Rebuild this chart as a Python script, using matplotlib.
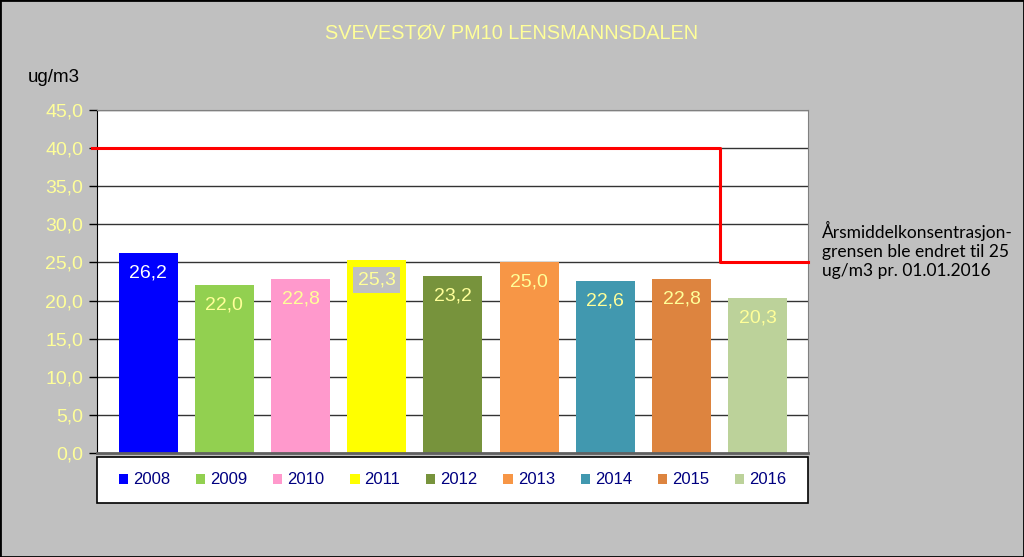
import numpy as np
import matplotlib.pyplot as plt
from matplotlib.patches import Rectangle

years = ["2008", "2009", "2010", "2011", "2012", "2013", "2014", "2015", "2016"]
values = [26.2, 22.0, 22.8, 25.3, 23.2, 25.0, 22.6, 22.8, 20.3]
colors = ["#0000FF", "#92D050", "#FF99CC", "#FFFF00", "#77933C",
          "#F79646", "#4198AF", "#DD843F", "#BCD29A"]
label_colors = ["white", "#FFFF99", "#FFFF99", "#FFFF99", "#FFFF99",
                "#FFFF99", "#FFFF99", "#FFFF99", "#FFFF99"]
limit_old = 40
limit_new = 25
yticks = np.arange(0, 46, 5)

bg = "#C0C0C0"
plt.rcParams["font.family"] = ["Liberation Sans", "DejaVu Sans"]

fig = plt.figure(figsize=(10.24, 5.57), dpi=100, facecolor=bg)
fig.patches.append(Rectangle((0, 0), 1, 1, transform=fig.transFigure,
                             fill=False, edgecolor="black", linewidth=2))
# legend box, same width as the plot area
fig.patches.append(Rectangle((97 / 1024, 1 - 503 / 557), 711 / 1024, 46 / 557,
                             transform=fig.transFigure, facecolor="white",
                             edgecolor="black", linewidth=1.2))
ax = fig.add_axes([97 / 1024, 1 - 453 / 557, 711 / 1024, 343 / 557])
ax.set_facecolor("white")

x = np.arange(len(years))
bars = ax.bar(x, values, width=0.775, color=colors, zorder=2)

# gridlines
for t in yticks[1:]:
    ax.axhline(t, color="#333333", linewidth=1, zorder=1)

# category spacing is a bit narrower than the plot area
ax.set_xlim(-0.67, 8.66)
ax.set_ylim(0, 45)
ax.set_yticks(yticks)
ax.set_yticklabels([f"{t:.1f}".replace(".", ",") for t in yticks],
                   color="#FFFF99", fontsize=14)
ax.tick_params(axis="y", length=6, width=1, color="black", pad=4)
ax.set_xticks([])
for s in ["top", "right"]:
    ax.spines[s].set_color("#808080")
ax.spines["left"].set_color("black")
ax.spines["bottom"].set_color("#606060")
ax.spines["bottom"].set_linewidth(2)

# data labels
for i, (b, v) in enumerate(zip(bars, values)):
    kw = {}
    if years[i] == "2011":
        kw["bbox"] = dict(facecolor=bg, edgecolor="none", pad=3.5)
    ax.text(b.get_x() + b.get_width() / 2, v - 2.6, f"{v:.1f}".replace(".", ","),
            ha="center", va="center", color=label_colors[i], fontsize=14,
            zorder=3, **kw)

# limit line
ax.plot([-0.74, 7.5, 7.5, 8.66], [limit_old, limit_old, limit_new, limit_new],
        color="#FF0000", linewidth=2.2, clip_on=False, zorder=4)

fig.legend(bars, years, loc="center", bbox_to_anchor=(452.5 / 1024, 1 - 480 / 557),
           ncol=9, fontsize=12, frameon=False,
           handlelength=0.55, handleheight=0.55, handletextpad=0.3,
           columnspacing=1.55, borderpad=0, labelcolor="#000080")

fig.text(0.5, 1 - 33 / 557, "SVEVESTØV PM10 LENSMANNSDALEN", ha="center",
         va="center", color="#FFFF99", fontsize=14.3)
fig.text(28 / 1024, 1 - 77 / 557, "ug/m3", ha="left", va="center",
         color="black", fontsize=13.5)
fig.text(822 / 1024, 1 - 250 / 557,
         "Årsmiddelkonsentrasjon-\ngrensen ble endret til 25\nug/m3 pr. 01.01.2016",
         ha="left", va="center", color="black", fontsize=12.5,
         family=["Lato", "DejaVu Sans"], linespacing=1.2)

fig.savefig("out.png", dpi=100, facecolor=bg)
